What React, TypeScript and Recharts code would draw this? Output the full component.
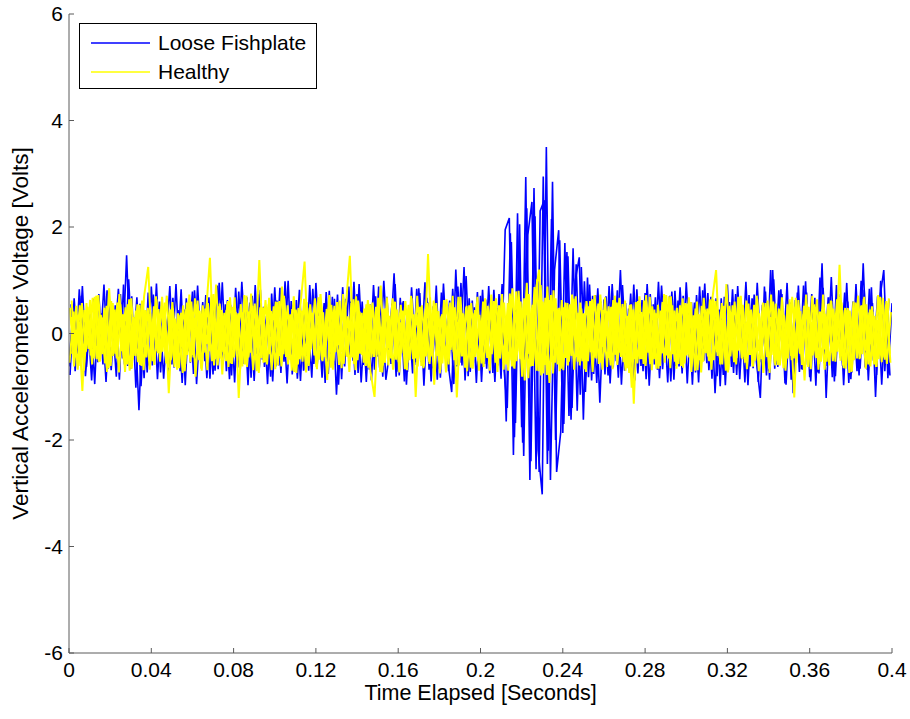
import { Line, LineChart, XAxis, YAxis } from "recharts";

// sample spacing of the traces (seconds)
const STEP = 0.002;

// Loose fishplate traces (Volts)
const looseA = [
  -0.62, 0.48, -0.35, 0.71, -0.8, 0.22, 0.65, -0.54, 0.38, -0.91, 0.57, -0.28, 0.84, -0.47, 1.47, -0.66, 0.31, -1.44, 0.52, -0.73,
  0.88, -0.39, 0.6, -0.85, 0.27, -0.58, 0.93, -0.71, 0.45, -0.33, 0.79, -0.95, 0.36, -0.52, 0.68, -0.77, 0.9, -0.41, 0.55, -0.86,
  0.42, -0.64, 0.97, -0.3, 0.58, -0.89, 0.74, -0.49, 0.33, -0.81, 0.87, -0.6, 0.46, -0.94, 0.61, -0.37, 0.82, -0.7, 0.39, -0.83,
  0.95, -0.45, 0.57, -0.76, 0.69, -1.15, 0.4, -0.62, 0.88, -0.51, 0.74, -0.92, 0.35, -0.68, 0.91, -0.43, 0.63, -0.87, -0.3, 1.13,
  -0.72, 0.58, -0.96, 0.44, -0.59, 0.85, -0.38, 0.67, -0.9, 0.53, -0.66, 0.94, -0.48, -1.1, 1.2, -0.55, 1.25, -0.8, 0.62, -0.93,
  0.71, -0.57, 0.89, -0.74, 0.48, -0.85, 1.95, 2.17, -2.28, 2.26, -1.76, 2.94, -2.75, 2.73, -2.19, -3.02, 3.5, -2.75, 1.2, 1.94,
  -1.87, 1.53, -1.62, 0.98, 1.43, -1.62, 1.05, -0.88, 0.72, -1.3, 0.64, -0.79, 0.93, -0.52, 1.19, -0.7, 0.47, -0.91, 0.83, -0.61,
  0.76, -0.98, 0.55, -0.68, 0.9, -0.44, 0.71, -0.87, 0.62, -0.75, 0.96, -0.39, 0.58, -0.92, 0.81, -0.56, 0.69, -1.12, 0.45, -0.78,
  0.92, -0.63, 0.74, -0.86, 0.51, -0.97, 0.66, -0.49, -1.21, 0.88, -0.71, 1.19, -0.58, 0.83, -0.94, 0.6, -1.12, 0.77, -0.67, 0.98,
  -0.82, 0.55, -0.73, 1.32, -1.21, 0.69, -0.9, 0.74, -0.61, 0.95, -0.86, 0.52, -0.79, 1.32, -0.68, 0.87, -1.19, 0.63, 1.19, -0.84,
  0.57,
];
const looseB = [
  0.55, -0.71, 0.83, -0.44, 0.36, -0.88, 0.61, -0.39, 0.92, -0.66, 0.29, -0.81, 0.74, -0.58, 1.02, -0.47, 0.68, -0.99, 0.41, -0.6,
  0.73, -0.86, 0.5, -0.32, 0.89, -0.64, 0.44, -0.93, 0.66, -0.55, 0.81, -0.42, 0.59, -0.84, 0.37, -0.7, 0.95, -0.51, 0.63, -0.79,
  0.86, -0.46, 0.57, -0.97, 0.71, -0.38, 0.82, -0.63, 0.49, -0.9, 0.62, -0.74, 0.98, -0.43, 0.54, -0.85, 0.4, -0.69, 0.91, -0.57,
  0.48, -0.83, 0.78, -0.52, 0.65, -0.96, 0.87, -0.41, 0.6, -0.78, 0.93, -0.59, 0.45, -0.88, 0.7, -0.64, 0.99, -0.36, 0.56, -0.81,
  0.67, -0.9, 0.42, -0.75, 0.84, -0.53, 0.96, -0.68, 0.51, -0.87, 0.77, -0.45, 0.62, -0.95, 0.88, -0.6, 1.08, -0.72, 0.49, -0.58,
  0.82, -0.66, 0.53, -0.91, 0.74, -0.47, -1.4, 1.72, -1.68, 2.05, -2.3, 1.85, 2.47, -2.55, 2.3, 2.5, -2.2, 2.85, -2.6, -1.85,
  1.7, -1.55, 1.6, -1.45, 1.25, -1.1, 0.92, -0.76, 0.85, -0.62, 0.7, -0.94, 0.57, -0.83, 0.91, -0.48, 0.75, -0.88, 0.64, -0.71,
  0.93, -0.57, 0.68, -0.84, 0.45, -0.92, 0.79, -0.61, 0.87, -0.5, 0.58, -0.96, 0.72, -0.43, 0.94, -0.69, 0.52, -0.8, 0.66, -0.97,
  0.59, -0.74, 0.89, -0.48, 0.97, -0.62, 0.73, -0.91, 0.54, -0.79, 1.19, -0.66, 0.81, -0.53, 0.95, -0.87, 0.63, -0.72, 0.9, -0.59,
  0.74, -0.98, 1.05, -0.55, 0.68, -0.82, 0.91, -0.46, 0.77, -0.93, 0.6, -0.71, 0.99, -0.64, 0.84, -0.51, 0.7, -0.96, 0.58, -0.79,
];
const looseC = [
  -0.78, 0.66, -0.52, 0.89, -0.63, 0.47, -0.95, 0.74, -0.58, 0.81, -0.69, 0.53, -0.87, 0.92, -0.61, 0.7, -1.02, 0.56, -0.84, 0.77,
  -0.6, 0.94, -0.73, 0.51, -0.88, 0.67, -0.55, 0.83, -0.97, 0.62, -0.76, 0.9, -0.49, 0.72, -0.85, 0.59, -0.67, 0.96, -0.71, 0.54,
  -0.92, 0.79, -0.57, 0.68, -0.83, 0.91, -0.64, 0.5, -0.95, 0.75, -0.62, 0.86, -0.53, 0.99, -0.77, 0.63, -0.89, 0.58, -0.7, 0.84,
  -0.66, 0.52, -0.93, 0.8, -0.59, 0.73, -0.86, 0.65, -0.5, 0.97, -0.74, 0.6, -0.91, 0.55, -0.68, 0.88, -0.81, 0.69, -0.57, 0.93,
  -0.79, 0.61, -0.72, 0.87, -0.54, 0.76, -0.98, 0.58, -0.65, 0.9, -0.83, 0.51, -0.71, 0.84, -0.62, 0.95, -0.88, 0.66, -0.56, 0.78,
  -0.91, 0.64, -0.75, 0.82, -0.6, 0.93, -1.65, 1.88, -1.95, 1.6, -2.05, 2.35, -2.4, 2.2, -2.6, 2.95, -2.45, 2.15, -2.0, 1.75,
  -1.7, 1.45, -1.4, 1.3, -1.15, 0.98, -0.82, 0.71, -0.93, 0.6, -0.77, 0.89, -0.64, 0.81, -0.96, 0.57, -0.69, 0.92, -0.75, 0.63,
  -0.86, 0.74, -0.58, 0.97, -0.67, 0.55, -0.9, 0.8, -0.62, 0.71, -0.94, 0.59, -0.73, 0.88, -0.51, 0.76, -0.85, 0.66, -0.99, 0.69,
  -0.57, 0.83, -0.78, 0.61, -0.92, 0.72, -0.65, 0.95, -0.54, 0.79, -0.87, 1.02, -0.63, 0.74, -0.96, 0.58, -0.82, 0.9, -0.68, 0.77,
  -0.9, 0.67, -0.75, 0.86, -0.61, 1.06, -0.8, 0.7, -0.97, 0.6, -0.73, 0.93, -0.66, 0.82, -0.88, 0.57, -0.78, 0.99, -0.71, 0.64,
];

// Healthy traces (Volts)
const healthyA = [
  0.48, -0.62, 0.35, -1.08, 0.57, -0.41, 0.69, -0.53, 0.3, -0.72, 0.61, -0.38, 0.74, -0.49, 0.55, -0.66, 0.43, -0.59, 0.7, 1.25,
  -0.52, 0.64, -0.36, 0.58, -1.12, 0.47, -0.68, 0.39, -0.57, 0.73, -0.45, 0.62, -0.7, 0.33, 1.42, -0.6, 0.51, -0.77, 0.44, -0.56,
  0.68, -1.21, 0.4, -0.63, 0.75, -0.48, 1.38, -0.55, 0.37, -0.69, 0.6, -0.42, 0.71, -0.58, 0.46, -0.74, 0.53, 1.35, -0.61, 0.39,
  -0.67, 0.58, -0.44, 0.72, -0.51, 0.36, -0.65, 0.49, 1.46, -0.57, 0.62, -0.4, 0.55, -0.71, -1.19, 0.45, -0.6, 0.68, -0.47, 0.59,
  -0.73, 0.41, -0.55, 0.66, -1.19, 0.5, -0.62, 1.49, -0.43, 0.57, -0.68, 0.39, -0.58, 0.71, -1.2, 0.47, -0.64, 0.53, -0.49, 0.69,
  -0.56, 0.42, -0.7, 0.61, -0.45, 0.74, -0.58, 0.52, -0.66, 0.8, -0.48, 0.95, -0.62, 0.7, 1.2, -0.75, 0.88, -0.54, 0.66, -0.71,
  0.49, -0.6, 0.73, -0.44, 0.58, -0.67, 0.51, -0.72, 0.4, -0.55, 0.68, -0.46, 0.63, -0.59, 0.37, -0.7, 0.54, -1.32, 0.61, -0.48,
  0.72, -0.57, 0.45, -0.66, 0.59, -0.41, 0.7, -0.53, 0.38, -0.64, 0.56, -0.72, 0.47, -0.5, 0.67, -0.43, 0.6, 1.19, -0.58, 0.44,
  -0.69, 0.53, -0.46, 0.71, -0.55, 0.39, -0.62, 0.65, -0.48, 0.57, -0.74, 0.42, -0.59, 0.68, -0.51, 0.46, -1.2, 0.63, -0.44, 0.55,
  -0.67, 0.5, -0.57, 0.73, -0.42, 0.61, -0.53, 1.29, -0.65, 0.48, -0.71, 0.56, -0.46, 0.69, -0.58, 0.41, -0.63, 0.54, -0.49, 0.66,
];
const healthyB = [
  -0.38, 0.52, -0.61, 0.44, -0.29, 0.67, -0.48, 0.35, -0.56, 0.85, -0.42, 0.58, -0.33, 0.49, -0.7, 0.31, -0.54, 0.62, -0.45, 0.37,
  -0.59, 0.46, -0.34, 0.71, -0.5, 0.28, -0.65, 0.53, -0.4, 0.6, -0.81, 0.43, -0.36, 0.57, -0.52, 0.92, -0.47, 0.39, -0.63, 0.5,
  -0.32, 0.55, -0.58, 0.41, -0.69, 0.34, -0.46, 0.63, -0.39, 0.51, -0.6, 0.88, -0.44, 0.36, -0.72, 0.48, -0.53, 0.59, -0.3, 0.66,
  -0.49, 0.4, -0.87, 0.54, -0.35, 0.62, -0.57, 0.32, -0.45, 0.7, -0.38, 0.47, -0.64, 0.58, -0.41, 0.9, -0.55, 0.33, -0.68, 0.45,
  -0.37, 0.61, -0.5, 0.36, -0.62, 0.53, -0.43, 0.68, -0.96, 0.42, -0.56, 0.64, -0.31, 0.49, -0.6, 0.38, -0.71, 0.57, -0.44, 0.35,
  -0.63, 0.52, -0.39, 0.66, -0.47, 0.58, -0.7, 0.85, -0.52, 0.6, -0.88, 0.74, -0.61, 1.02, -0.79, 0.67, -0.93, 0.81, -0.58, 0.63,
  -0.46, 0.55, -0.68, 0.39, -0.52, 0.61, -0.35, 0.72, -0.57, 0.44, -0.63, 0.5, -0.4, 0.67, -0.54, 0.33, -1.02, 0.59, -0.48, 0.62,
  -0.36, 0.51, -0.66, 0.43, -0.55, 0.7, -0.39, 0.48, -0.61, 0.57, -0.45, 0.34, -0.69, 0.52, -0.37, 0.64, -0.5, 0.41, -0.58, 0.93,
  -0.43, 0.6, -0.32, 0.54, -0.67, 0.45, -0.51, 0.38, -0.74, 0.62, -0.4, 0.56, -0.6, 0.35, -0.47, 0.69, -0.55, 0.42, -0.88, 0.5,
  -0.41, 0.64, -0.53, 0.37, -0.6, 0.47, -0.34, 0.58, -0.66, 0.43, -0.5, 0.71, -0.39, 0.55, -0.62, 0.33, -0.48, 0.67, -0.57, 0.4,
];
const healthyC = [
  0.31, -0.45, 0.22, -0.38, 0.5, -0.27, 0.41, -0.53, 0.18, -0.36, 0.47, -0.24, 0.55, -0.4, 0.29, -0.49, 0.35, -0.21, 0.44, -0.52,
  0.26, -0.33, 0.51, -0.43, 0.19, -0.47, 0.38, -0.25, 0.46, -0.54, 0.3, -0.39, 0.53, -0.2, 0.42, -0.48, 0.24, -0.35, 0.57, -0.29,
  0.4, -0.51, 0.21, -0.44, 0.34, -0.26, 0.49, -0.37, 0.55, -0.23, 0.28, -0.46, 0.43, -0.32, 0.2, -0.53, 0.37, -0.41, 0.48, -0.19,
  0.33, -0.5, 0.27, -0.36, 0.52, -0.22, 0.45, -0.42, 0.23, -0.55, 0.39, -0.3, 0.5, -0.45, 0.25, -0.34, 0.46, -0.28, 0.41, -0.49,
  0.21, -0.4, 0.54, -0.31, 0.36, -0.48, 0.27, -0.53, 0.44, -0.24, 0.32, -0.46, 0.51, -0.35, 0.22, -0.43, 0.49, -0.27, 0.38, -0.52,
  0.3, -0.37, 0.45, -0.21, 0.53, -0.44, 0.26, -0.5, 0.41, -0.33, 0.56, -0.39, 0.48, -0.58, 0.36, -0.47, 0.62, -0.3, 0.44, -0.41,
  0.24, -0.53, 0.39, -0.28, 0.47, -0.36, 0.21, -0.45, 0.52, -0.25, 0.34, -0.49, 0.42, -0.32, 0.55, -0.2, 0.29, -0.48, 0.37, -0.43,
  0.5, -0.26, 0.35, -0.54, 0.23, -0.38, 0.46, -0.31, 0.53, -0.42, 0.28, -0.47, 0.4, -0.22, 0.33, -0.51, 0.48, -0.35, 0.25, -0.44,
  0.52, -0.29, 0.37, -0.46, 0.2, -0.4, 0.54, -0.33, 0.43, -0.24, 0.31, -0.55, 0.47, -0.37, 0.26, -0.42, 0.5, -0.28, 0.36, -0.48,
  0.22, -0.45, 0.41, -0.3, 0.55, -0.36, 0.27, -0.51, 0.44, -0.23, 0.34, -0.47, 0.52, -0.32, 0.39, -0.43, 0.25, -0.54, 0.46, -0.38,
];
const healthyD = [
  -0.55, 0.41, -0.68, 0.57, -0.34, 0.63, -0.47, 0.72, -0.39, 0.52, -0.61, 0.45, -0.73, 0.36, -0.58, 0.66, -0.42, 0.54, -0.69, 0.48,
  -0.37, 0.7, -0.53, 0.43, -0.64, 0.59, -0.46, 0.35, -0.71, 0.62, -0.4, 0.55, -0.66, 0.47, -0.33, 0.74, -0.6, 0.44, -0.52, 0.68,
  -0.45, 0.38, -0.62, 0.71, -0.36, 0.56, -0.74, 0.49, -0.58, 0.42, -0.67, 0.61, -0.39, 0.53, -0.7, 0.45, -0.48, 0.65, -0.56, 0.37,
  -0.63, 0.74, -0.41, 0.5, -0.68, 0.59, -0.35, 0.46, -0.72, 0.64, -0.5, 0.39, -0.61, 0.55, -0.44, 0.67, -0.73, 0.48, -0.38, 0.6,
  -0.54, 0.43, -0.69, 0.71, -0.47, 0.36, -0.65, 0.57, -0.4, 0.52, -0.75, 0.63, -0.46, 0.41, -0.59, 0.69, -0.52, 0.34, -0.66, 0.58,
  -0.43, 0.66, -0.57, 0.49, -0.72, 0.62, -0.38, 0.75, -0.64, 0.55, -0.81, 0.68, -0.5, 0.87, -0.71, 0.6, -0.78, 0.72, -0.55, 0.48,
  -0.69, 0.57, -0.42, 0.7, -0.6, 0.38, -0.52, 0.64, -0.47, 0.73, -0.35, 0.51, -0.67, 0.58, -0.44, 0.62, -0.74, 0.45, -0.56, 0.4,
  -0.61, 0.69, -0.48, 0.54, -0.37, 0.72, -0.65, 0.43, -0.57, 0.66, -0.41, 0.59, -0.7, 0.36, -0.53, 0.47, -0.68, 0.61, -0.45, 0.52,
  -0.73, 0.4, -0.58, 0.67, -0.44, 0.56, -0.62, 0.71, -0.36, 0.49, -0.66, 0.6, -0.51, 0.42, -0.7, 0.64, -0.47, 0.37, -0.59, 0.73,
  -0.42, 0.55, -0.68, 0.46, -0.53, 0.62, -0.39, 0.7, -0.6, 0.44, -0.72, 0.58, -0.48, 0.65, -0.35, 0.51, -0.63, 0.69, -0.45, 0.57,
];
const healthyE = [
  0.62, -0.44, 0.53, -0.7, 0.39, -0.58, 0.71, -0.35, 0.48, -0.65, 0.57, -0.47, 0.36, -0.72, 0.64, -0.41, 0.55, -0.61, 0.42, -0.68,
  0.51, -0.37, 0.69, -0.56, 0.45, -0.63, 0.34, -0.74, 0.58, -0.43, 0.66, -0.5, 0.4, -0.69, 0.73, -0.46, 0.56, -0.38, 0.61, -0.57,
  0.35, -0.66, 0.72, -0.45, 0.52, -0.71, 0.44, -0.54, 0.67, -0.39, 0.59, -0.62, 0.37, -0.49, 0.7, -0.58, 0.43, -0.73, 0.55, -0.41,
  0.68, -0.52, 0.46, -0.64, 0.35, -0.59, 0.74, -0.44, 0.57, -0.69, 0.41, -0.55, 0.63, -0.38, 0.5, -0.72, 0.47, -0.6, 0.66, -0.36,
  0.54, -0.67, 0.39, -0.48, 0.71, -0.61, 0.45, -0.57, 0.62, -0.42, 0.36, -0.73, 0.58, -0.5, 0.69, -0.4, 0.52, -0.64, 0.44, -0.7,
  0.6, -0.46, 0.73, -0.55, 0.41, -0.68, 0.57, -0.62, 0.79, -0.48, 0.66, -0.84, 0.54, -0.7, 0.91, -0.59, 0.63, -0.75, 0.47, -0.66,
  0.58, -0.4, 0.65, -0.53, 0.37, -0.72, 0.61, -0.45, 0.56, -0.68, 0.42, -0.6, 0.71, -0.36, 0.49, -0.65, 0.55, -0.43, 0.7, -0.57,
  0.46, -0.69, 0.38, -0.61, 0.74, -0.47, 0.53, -0.66, 0.41, -0.56, 0.68, -0.39, 0.6, -0.73, 0.45, -0.52, 0.64, -0.42, 0.57, -0.7,
  0.36, -0.54, 0.69, -0.48, 0.62, -0.37, 0.47, -0.71, 0.58, -0.44, 0.73, -0.6, 0.4, -0.65, 0.55, -0.5, 0.67, -0.38, 0.52, -0.63,
  0.71, -0.46, 0.39, -0.68, 0.56, -0.52, 0.64, -0.41, 0.48, -0.74, 0.6, -0.37, 0.53, -0.66, 0.45, -0.58, 0.72, -0.43, 0.61, -0.55,
];

const xTicks = [0, 0.04, 0.08, 0.12, 0.16, 0.2, 0.24, 0.28, 0.32, 0.36, 0.4];
const yTicks = [-6, -4, -2, 0, 2, 4, 6];

const BLUE = "#0000ff";
const YELLOW = "#ffff00";

const legendItems = [
  { name: "Loose Fishplate", color: BLUE },
  { name: "Healthy", color: YELLOW },
];

// blue drawn first so the healthy traces sit on top
const traces = [
  { id: "looseA", values: looseA, start: 0, color: BLUE, width: 1.6 },
  { id: "looseB", values: looseB, start: 0.001, color: BLUE, width: 1.6 },
  { id: "looseC", values: looseC, start: 0.0005, color: BLUE, width: 1.6 },
  { id: "healthyA", values: healthyA, start: 0.0005, color: YELLOW, width: 2 },
  { id: "healthyB", values: healthyB, start: 0.0015, color: YELLOW, width: 2 },
  { id: "healthyC", values: healthyC, start: 0.001, color: YELLOW, width: 2 },
  { id: "healthyD", values: healthyD, start: 0.00025, color: YELLOW, width: 2 },
  { id: "healthyE", values: healthyE, start: 0.00125, color: YELLOW, width: 2 },
];

const FONT = "'Liberation Sans', Arial, sans-serif";

function toRows(values: number[], start: number) {
  return values.map((v, i) => ({ t: start + i * STEP, v }));
}

function YLabel({ viewBox }: any) {
  const cx = viewBox.x + 20;
  const cy = viewBox.y + viewBox.height / 2;
  return (
    <text
      x={cx}
      y={cy}
      transform={`rotate(-90 ${cx} ${cy})`}
      textAnchor="middle"
      dominantBaseline="central"
      fontSize={22.5}
      fontFamily={FONT}
      fill="#000"
    >
      Vertical Accelerometer Voltage [Volts]
    </text>
  );
}

function XLabel({ viewBox }: any) {
  const cx = viewBox.x + viewBox.width / 2;
  return (
    <text
      x={cx}
      y={viewBox.y + 40}
      textAnchor="middle"
      dominantBaseline="central"
      fontSize={21.5}
      fontFamily={FONT}
      fill="#000"
    >
      Time Elapsed [Seconds]
    </text>
  );
}

export default function App() {
  const tickStyle = { fill: "#000", fontSize: 21, fontFamily: FONT };
  return (
    <div style={{ position: "relative", width: 910, height: 719, background: "#fff" }}>
      <style>{"body{margin:0}"}</style>
      <LineChart width={910} height={719} margin={{ top: 14, right: 18, left: 0, bottom: 0 }}>
        <XAxis
          type="number"
          dataKey="t"
          domain={[0, 0.4]}
          ticks={xTicks}
          interval={0}
          allowDataOverflow
          height={66}
          stroke="#5a5a5a"
          tickSize={-5}
          tickMargin={14}
          tick={tickStyle}
          tickFormatter={(v) => String(v)}
          label={<XLabel />}
        />
        <YAxis
          type="number"
          dataKey="v"
          domain={[-6, 6]}
          ticks={yTicks}
          interval={0}
          width={69}
          stroke="#5a5a5a"
          tickSize={-5}
          tickMargin={11}
          tick={tickStyle}
          label={<YLabel />}
        />
        {traces.map((tr) => (
          <Line
            key={tr.id}
            data={toRows(tr.values, tr.start)}
            dataKey="v"
            type="linear"
            stroke={tr.color}
            strokeWidth={tr.width}
            dot={false}
            isAnimationActive={false}
          />
        ))}
      </LineChart>
      <div
        style={{
          position: "absolute",
          left: 79,
          top: 23,
          width: 236,
          height: 64,
          border: "1px solid #000",
          background: "#fff",
          fontFamily: FONT,
          fontSize: 21,
        }}
      >
        {legendItems.map((it, i) => (
          <div
            key={it.name}
            style={{ position: "absolute", left: 11, top: 6 + i * 29, height: 26, display: "flex", alignItems: "center" }}
          >
            <svg width={60} height={4}>
              <line x1={0} y1={2} x2={59} y2={2} stroke={it.color} strokeWidth={1.5} />
            </svg>
            <span style={{ marginLeft: 7 }}>{it.name}</span>
          </div>
        ))}
      </div>
    </div>
  );
}
